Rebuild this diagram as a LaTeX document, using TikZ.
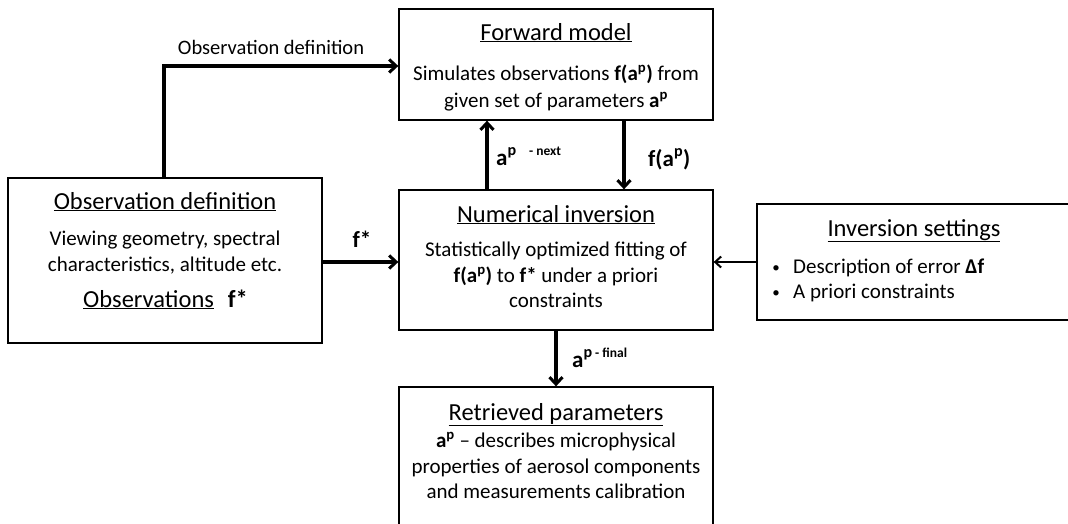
\documentclass[tikz,border=0pt]{standalone}
\usepackage{fontspec}
\setmainfont{Carlito}
\usetikzlibrary{arrows.meta}
\tikzset{
  box/.style={draw=black, line width=1.3pt, fill=white, inner sep=0pt},
  ttl/.style={font=\fontsize{24.5}{28}\selectfont, inner sep=0pt, anchor=base},
  txt/.style={font=\fontsize{21}{25}\selectfont, inner sep=0pt, anchor=base},
  lbl/.style={font=\fontsize{20.5}{23}\selectfont, inner sep=0pt, anchor=base},
  blbl/.style={font=\bfseries\fontsize{23}{25}\selectfont, inner sep=0pt, anchor=base},
  flow/.style={line width=3.2pt, -{Straight Barb[length=7pt,width=13pt,line width=3pt]}},
  thinflow/.style={line width=2.2pt, -{Straight Barb[length=6pt,width=11pt,line width=2pt]}},
  bul/.style={font=\fontsize{15}{15}\selectfont, inner sep=0pt, anchor=base},
}
\newcommand{\ap}{\textbf{a\textsuperscript{p}}}
\begin{document}
\begin{tikzpicture}[x=1pt,y=-1pt]
\useasboundingbox (0,0) rectangle (1068,523);
\clip (0,0) rectangle (1068,523);
% boxes
\node[box, minimum width=314pt, minimum height=111pt] (fwd) at (556,64.5) {};
\node[box, minimum width=314pt, minimum height=140pt] (inv) at (556,260) {};
\node[box, minimum width=314pt, minimum height=165pt] (obs) at (165,260.5) {};
\node[box, minimum width=320pt, minimum height=116pt] (set) at (917,262) {};
\node[box, minimum width=314pt, minimum height=150pt] (ret) at (556,462) {};
% forward model text
\node[ttl] (fwdt) at (556,40) {\underline{Forward model}};
\node[txt] (fwd1) at (556,80) {Simulates observations \textbf{f(a\textsuperscript{p})} from};
\node[txt] (fwd2) at (556,107) {given set of parameters \ap};
% numerical inversion
\node[ttl] (invt) at (556,222) {\underline{Numerical inversion}};
\node[txt] (inv1) at (556,256) {Statistically optimized fitting of};
\node[txt] (inv2) at (556,282) {\textbf{f(a\textsuperscript{p})} to \textbf{f*} under a priori};
\node[txt] (inv3) at (556,307) {constraints};
% observation definition
\node[ttl] (obst) at (165,209) {\underline{Observation definition}};
\node[txt] (obs1) at (165,245) {Viewing geometry, spectral};
\node[txt] (obs2) at (165,271) {characteristics, altitude etc.};
\node[ttl, anchor=base west] (obs3) at (83,307) {\underline{Observations}\hspace{14pt}\textbf{f*}};
% inversion settings
\node[ttl] (sett) at (914,236) {\underline{Inversion settings}};
\node[bul] (b1) at (776,272) {\textbullet};
\node[txt, anchor=base west] (s1) at (793,273) {Description of error \textbf{Δf}};
\node[bul] (b2) at (776,297) {\textbullet};
\node[txt, anchor=base west] (s2) at (793,298) {A priori constraints};
% retrieved
\node[ttl] (rett) at (556,420) {\underline{Retrieved parameters}};
\node[txt] (ret1) at (556,447) {\ap\ -- describes microphysical};
\node[txt] (ret2) at (556,473) {properties of aerosol components};
\node[txt] (ret3) at (556,498) {and measurements calibration};
% connectors
\coordinate (corner) at (164,66);
\draw[flow] (obs.north -| corner) -- (corner) -- (fwd.west |- corner);
\node[lbl] (l1) at (271,54) {Observation definition};
\coordinate (upx) at (487,0);
\draw[flow] (inv.north -| upx) -- (fwd.south -| upx);
\node[blbl, anchor=base west] (l2) at (496,165) {a\textsuperscript{p\hspace{13pt}{\fontsize{13.5}{13.5}\selectfont- next}}};
\coordinate (dnx) at (624,0);
\draw[flow] (fwd.south -| dnx) -- (inv.north -| dnx);
\node[blbl, anchor=base west] (l3) at (648,166) {f(a\textsuperscript{p})};
\coordinate (fy) at (0,262);
\draw[flow] (obs.east |- fy) -- (inv.west |- fy);
\node[blbl] (l4) at (362,247) {f*};
\draw[thinflow] (set.west |- fy) -- (inv.east |- fy);
\coordinate (fx) at (556,0);
\draw[flow] (inv.south -| fx) -- (ret.north -| fx);
\node[blbl, anchor=base west] (l5) at (572,367) {a\textsuperscript{p\hspace{3pt}{\fontsize{13.5}{13.5}\selectfont- final}}};
\end{tikzpicture}
\end{document}
